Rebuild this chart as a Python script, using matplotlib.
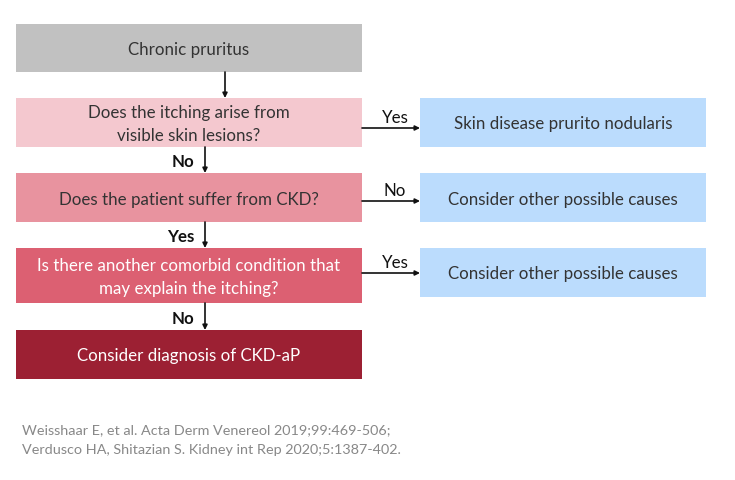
import matplotlib
matplotlib.use("Agg")
import matplotlib.pyplot as plt
from matplotlib.patches import Rectangle

plt.rcParams['font.family'] = ['Lato', 'DejaVu Sans']

# Flowchart content
main_labels = [
    "Chronic pruritus",
    "Does the itching arise from\nvisible skin lesions?",
    "Does the patient suffer from CKD?",
    "Is there another comorbid condition that\nmay explain the itching?",
    "Consider diagnosis of CKD-aP",
]
main_colors = ["#c1c1c1", "#f4c8cf", "#e8939f", "#dc6072", "#9c2033"]
main_text_colors = ["#333333", "#333333", "#333333", "#ffffff", "#ffffff"]
down_labels = ["", "No", "Yes", "No"]

side_labels = [
    "Skin disease prurito nodularis",
    "Consider other possible causes",
    "Consider other possible causes",
]
side_arrow_labels = ["Yes", "No", "Yes"]
side_color = "#bbdcfd"

citations = [
    "Weisshaar E, et al. Acta Derm Venereol 2019;99:469-506;",
    "Verdusco HA, Shitazian S. Kidney int Rep 2020;5:1387-402.",
]

# Layout (pixel coordinates)
main_x0, main_x1 = 16, 362
main_tops = [24, 98, 173, 248, 330]
main_bots = [72, 147, 222, 303, 379]
down_arrow_x = [225, 205, 205, 205]
side_x0, side_x1 = 420, 706
side_tops = [98, 173, 248]
side_bots = [147, 222, 297]
side_arrow_y = [128, 201, 273]

fig = plt.figure(figsize=(7.35, 4.8), dpi=100)
ax = fig.add_axes([0, 0, 1, 1])
ax.set_xlim(0, 735)
ax.set_ylim(480, 0)
ax.axis('off')

FS = 12.2

for lbl, c, tc, t, b in zip(main_labels, main_colors, main_text_colors, main_tops, main_bots):
    ax.add_patch(Rectangle((main_x0, t), main_x1 - main_x0, b - t, facecolor=c, edgecolor='none'))
    ax.text((main_x0 + main_x1) / 2, (t + b) / 2 + 2, lbl, ha='center', va='center',
            color=tc, fontsize=FS, linespacing=1.55)

for i, (lbl, x) in enumerate(zip(down_labels, down_arrow_x)):
    y0 = main_bots[i]
    y1 = main_tops[i + 1]
    ax.annotate("", xy=(x, y1), xytext=(x, y0),
                arrowprops=dict(arrowstyle='-|>', color='#111111', lw=1.2,
                                mutation_scale=7, shrinkA=0, shrinkB=0))
    if lbl:
        ax.text(x - 11, (y0 + y1) / 2 + 2, lbl, ha='right', va='center',
                fontsize=FS, fontweight='bold', color='#111111')

for lbl, albl, t, b, ay in zip(side_labels, side_arrow_labels, side_tops, side_bots, side_arrow_y):
    ax.add_patch(Rectangle((side_x0, t), side_x1 - side_x0, b - t, facecolor=side_color, edgecolor='none'))
    ax.text((side_x0 + side_x1) / 2, (t + b) / 2 + 2, lbl, ha='center', va='center',
            color='#333333', fontsize=FS)
    ax.annotate("", xy=(side_x0, ay), xytext=(main_x1, ay),
                arrowprops=dict(arrowstyle='-|>', color='#111111', lw=1.2,
                                mutation_scale=7, shrinkA=0, shrinkB=0))
    ax.text((main_x1 + side_x0) / 2 + 4, ay - 2, albl, ha='center', va='bottom',
            fontsize=FS, color='#111111')

for i, c in enumerate(citations):
    ax.text(22, 430 + i * 19.5, c, ha='left', va='center', fontsize=10.4, color='#888888')

fig.savefig("out.png", dpi=100)
